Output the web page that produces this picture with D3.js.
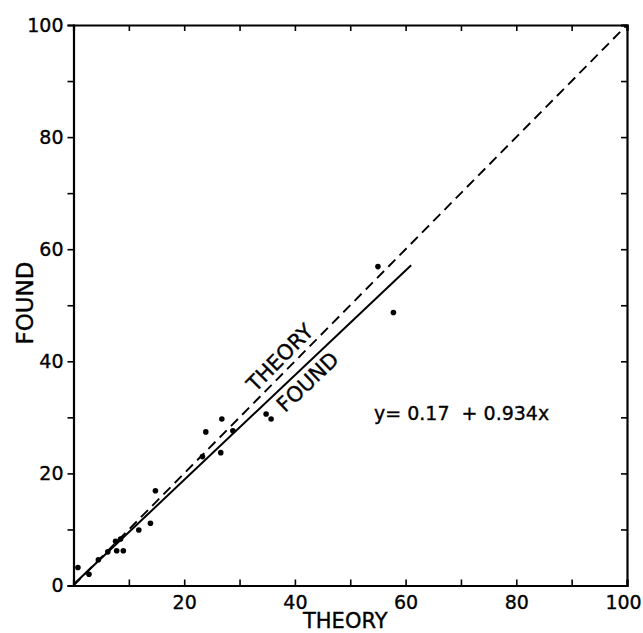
<!DOCTYPE html>
<html>
<head>
<meta charset="utf-8">
<script src="https://cdn.jsdelivr.net/npm/d3@7"></script>
<style>
  body { margin: 0; background: #fff; }
  svg { display: block; }
  text { font-family: "DejaVu Sans", sans-serif; fill: #000; stroke: #000; stroke-width: 0.35px; }
</style>
</head>
<body>
<svg id="chart" width="643" height="633"></svg>
<script>

// measured points: theory vs found
var theoryVals = [0.8, 2.8, 4.5, 6.2, 7.6, 8.5, 7.8, 9.0, 11.8, 13.9, 14.8, 23.3, 23.9, 26.6, 26.8, 28.8, 34.8, 35.7, 55.0, 57.8]
var foundVals  = [3.2, 2.0, 4.6, 6.0, 7.9, 8.3, 6.2, 6.2, 9.9, 11.1, 16.9, 23.0, 27.4, 23.7, 29.7, 27.6, 30.6, 29.7, 56.9, 48.7]

var tickVals   = [0, 10, 20, 30, 40, 50, 60, 70, 80, 90, 100]
var fitA = 0.17, fitB = 0.934, fitEnd = 61
var eqLabel = "y= 0.17  + 0.934x"

var svg = d3.select("#chart")

var x = d3.scaleLinear().domain([0, 100]).range([73.5, 627])
var y = d3.scaleLinear().domain([0, 100]).range([585.5, 25])

// frame + ticks
var lab = function(d){ return d % 20 == 0 ? d : "" }

var gl = svg.append("g").attr("transform", "translate(" + x(0) + ",0)")
  .call(d3.axisLeft(y).tickValues(tickVals).tickSize(6).tickPadding(4).tickFormat(lab))
var gb = svg.append("g").attr("transform", "translate(0," + y(0) + ")")
  .call(d3.axisBottom(x).tickValues(tickVals).tickSize(-6).tickPadding(10)
        .tickFormat(function(d){ return d == 0 ? "" : lab(d) }))
var gt = svg.append("g").attr("transform", "translate(0," + y(100) + ")")
  .call(d3.axisTop(x).tickValues(tickVals).tickSize(-6).tickFormat(""))
var gr = svg.append("g").attr("transform", "translate(" + x(100) + ",0)")
  .call(d3.axisRight(y).tickValues(tickVals).tickSize(-6).tickFormat(""))

svg.selectAll(".domain").attr("stroke", "#000").attr("stroke-width", 2.2)
svg.selectAll(".tick line").attr("stroke", "#000").attr("stroke-width", 1.6)
svg.selectAll(".tick text").style("font-family", "DejaVu Sans").style("font-size", "19px").attr("fill", "#000")
// last bottom label sits against the page edge
gb.selectAll(".tick text").filter(function(d){ return d == 100 }).attr("dx", -4)

// theory line y = x (dashed)
svg.append("line")
  .attr("x1", x(0)).attr("y1", y(0)).attr("x2", x(100)).attr("y2", y(100))
  .attr("stroke", "#000").attr("stroke-width", 1.9).attr("stroke-dasharray", "10,6")

// fitted line
svg.append("line")
  .attr("x1", x(0)).attr("y1", y(fitA)).attr("x2", x(fitEnd)).attr("y2", y(fitA + fitB*fitEnd))
  .attr("stroke", "#000").attr("stroke-width", 2)

// points
svg.append("g").selectAll("circle")
  .data(theoryVals)
  .enter().append("circle")
  .attr("cx", function(d){ return x(d) })
  .attr("cy", function(d, i){ return y(foundVals[i]) })
  .attr("r", 2.8)
  .attr("fill", "#000")

// labels along the lines
var angT = Math.atan2(y(100)-y(0), x(100)-x(0)) * 180 / Math.PI
var angF = Math.atan2(y(fitA+fitB*100)-y(fitA), x(100)-x(0)) * 180 / Math.PI

svg.append("text")
  .attr("transform", "translate(" + x(39) + "," + y(39) + ")rotate(" + angT + ")")
  .attr("dy", -6)
  .attr("text-anchor", "middle")
  .style("font-size", "21px")
  .text("THEORY")

svg.append("text")
  .attr("transform", "translate(" + x(40.6) + "," + y(fitA + fitB*40.6) + ")rotate(" + angF + ")")
  .attr("dy", 21)
  .attr("text-anchor", "middle")
  .style("font-size", "21px")
  .text("FOUND")

svg.append("text")
  .attr("x", 374).attr("y", 420)
  .style("font-size", "19px")
  .style("white-space", "pre")
  .text(eqLabel)

// axis titles
svg.append("text")
  .attr("x", (x(0)+x(100))/2 - 5).attr("y", 628)
  .attr("text-anchor", "middle")
  .style("font-size", "21px")
  .text("THEORY")

svg.append("text")
  .attr("transform", "translate(33," + 303 + ")rotate(-90)")
  .attr("text-anchor", "middle")
  .style("font-size", "23px")
  .text("FOUND")

</script>
</body>
</html>
